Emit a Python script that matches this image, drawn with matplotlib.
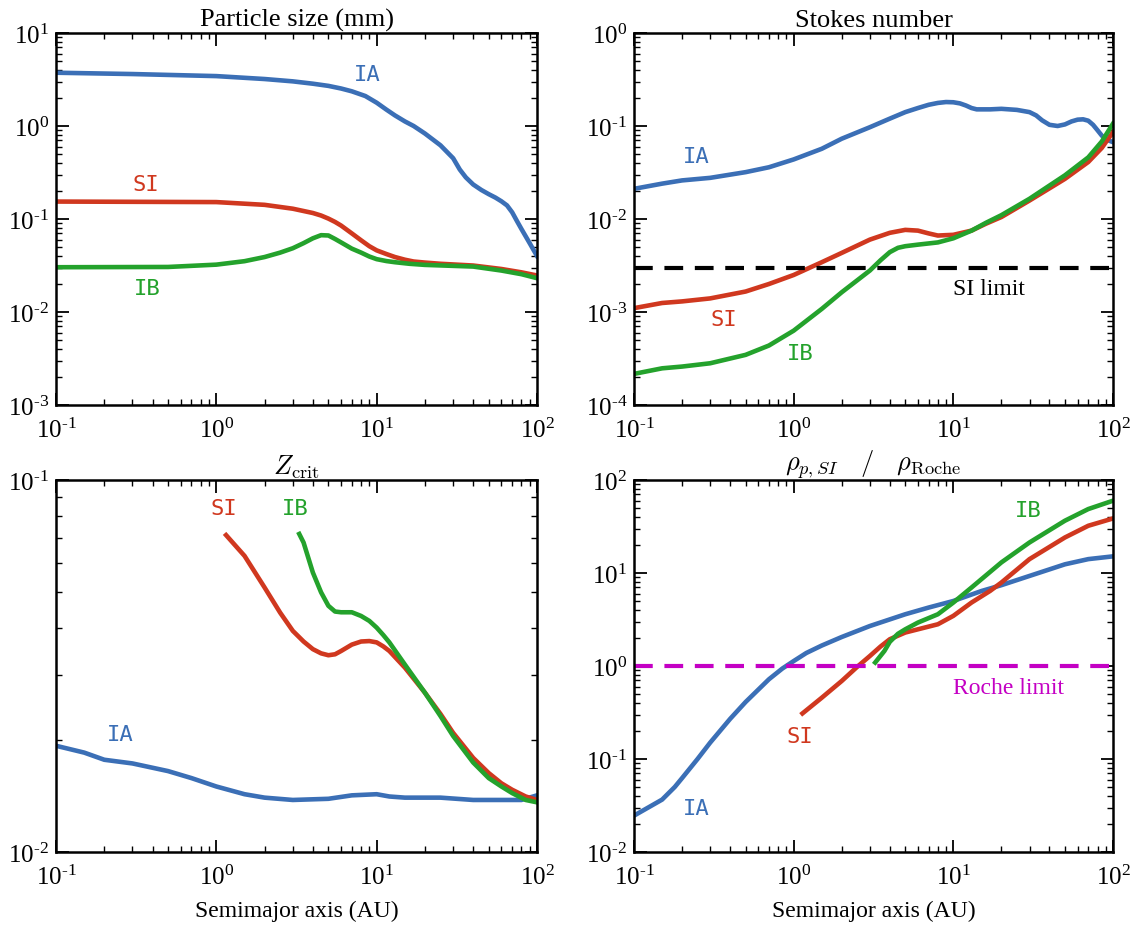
import matplotlib
matplotlib.use("Agg")
import math
import matplotlib.pyplot as plt
from matplotlib.ticker import LogLocator, FuncFormatter, NullFormatter

plt.rcParams['font.family'] = ['Liberation Serif', 'DejaVu Serif']
plt.rcParams['mathtext.fontset'] = 'custom'
plt.rcParams['mathtext.rm'] = 'Liberation Serif'
plt.rcParams['mathtext.it'] = 'Liberation Serif:italic'
plt.rcParams['mathtext.bf'] = 'Liberation Serif:bold'

C_IA = '#3b6fb6'
C_SI = '#d0381f'
C_IB = '#24a22c'
C_ROCHE = '#c400c4'

# ---------------- Particle size (mm) ----------------
size_ia_x = [0.1, 0.3, 1, 2, 3, 4, 5, 6, 7, 8.5, 10, 11.5, 13, 15, 17, 20, 25, 30, 33, 36, 40, 45,
             50, 55, 60, 65, 70, 75, 80, 90, 100]
size_ia_y = [3.74, 3.62, 3.44, 3.2, 3.02, 2.85, 2.7, 2.53, 2.36, 2.1, 1.78, 1.5, 1.3, 1.12, 1.0,
             0.83, 0.62, 0.45, 0.34, 0.28, 0.235, 0.205, 0.185, 0.17, 0.155, 0.14, 0.118, 0.095,
             0.078, 0.055, 0.040]
size_si_x = [0.1, 1, 2, 3, 4, 4.5, 5, 5.5, 6, 7, 8, 9, 10, 11.5, 13, 15, 17, 20, 25, 40, 60, 80, 100]
size_si_y = [0.154, 0.152, 0.142, 0.129, 0.116, 0.109, 0.101, 0.093, 0.085, 0.07, 0.059, 0.051,
             0.046, 0.042, 0.039, 0.0365, 0.0349, 0.034, 0.033, 0.0316, 0.029, 0.0267, 0.0247]
size_ib_x = [0.1, 0.5, 1, 1.5, 2, 2.5, 3, 3.5, 4, 4.5, 5, 5.5, 6, 7, 8, 9, 10, 11.5, 13, 16, 20,
             40, 60, 80, 100]
size_ib_y = [0.0303, 0.0305, 0.0323, 0.0352, 0.039, 0.0435, 0.0485, 0.055, 0.062, 0.067, 0.0665,
             0.061, 0.056, 0.048, 0.0435, 0.0395, 0.037, 0.0353, 0.0343, 0.033, 0.0321, 0.0308,
             0.0279, 0.0255, 0.0231]

# ---------------- Stokes number ----------------
st_ia_x = [0.1, 0.15, 0.2, 0.3, 0.5, 0.7, 1, 1.5, 2, 3, 4, 5, 6, 7, 8, 9, 10, 11, 12, 13, 14, 17,
           20, 25, 30, 33, 36, 40, 45, 50, 55, 60, 65, 70, 75, 80, 85, 90, 100]
st_ia_y = [0.0211, 0.024, 0.026, 0.0277, 0.0319, 0.036, 0.0437, 0.0569, 0.073, 0.097, 0.12,
           0.141, 0.156, 0.169, 0.177, 0.181, 0.18, 0.175, 0.166, 0.156, 0.151, 0.151, 0.153,
           0.149, 0.141, 0.13, 0.115, 0.103, 0.1, 0.104, 0.112, 0.117, 0.118, 0.114, 0.103,
           0.09, 0.079, 0.072, 0.067]
st_si_x = [0.1, 0.15, 0.2, 0.3, 0.5, 0.7, 1, 1.5, 2, 3, 4, 5, 6, 7, 8, 10, 13, 16, 20, 30, 50, 70,
           85, 100]
st_si_y = [0.0011, 0.00125, 0.0013, 0.0014, 0.00166, 0.002, 0.0025, 0.00343, 0.00432, 0.006,
           0.0071, 0.00764, 0.0075, 0.0070, 0.00664, 0.00676, 0.0075, 0.0089, 0.0105, 0.0158,
           0.027, 0.041, 0.058, 0.086]
st_ib_x = [0.1, 0.15, 0.2, 0.3, 0.5, 0.7, 1, 1.5, 2, 3, 3.5, 4, 4.5, 5, 6, 8, 10, 13, 16, 20, 30,
           50, 70, 85, 100]
st_ib_y = [0.000216, 0.000248, 0.000259, 0.000281, 0.000346, 0.000436, 0.00063, 0.00108, 0.00163,
           0.00279, 0.0036, 0.0044, 0.0049, 0.0051, 0.0053, 0.0056, 0.0062, 0.0075, 0.0091, 0.011,
           0.0165, 0.0295, 0.046, 0.068, 0.106]
si_limit = 3e-3

# ---------------- Z_crit ----------------
z_si_x = [1.15, 1.5, 2, 2.5, 3, 3.5, 4, 4.5, 5, 5.5, 6, 7, 8, 9, 10, 11, 12, 15, 20, 25, 30, 40,
          50, 60, 70, 85, 100]
z_si_y = [0.0711, 0.0625, 0.0514, 0.044, 0.0393, 0.0368, 0.0351, 0.0342, 0.0338, 0.034, 0.0347,
          0.0361, 0.0368, 0.0369, 0.0366, 0.0357, 0.0347, 0.0313, 0.0268, 0.0235, 0.0209, 0.0179,
          0.0163, 0.0153, 0.0147, 0.0141, 0.0138]
z_ib_x = [3.29, 3.5, 4, 4.5, 5, 5.5, 6, 7, 8, 9, 10, 11, 12, 15, 20, 25, 30, 40, 50, 60, 70, 85,
          100]
z_ib_y = [0.0716, 0.0679, 0.0564, 0.0499, 0.0459, 0.0443, 0.0441, 0.0441, 0.0431, 0.0418, 0.0401,
          0.0383, 0.0366, 0.0319, 0.0268, 0.0232, 0.0205, 0.0174, 0.0158, 0.015, 0.0144, 0.0138,
          0.0136]
z_ia_x = [0.1, 0.15, 0.2, 0.3, 0.5, 0.7, 1, 1.5, 2, 3, 5, 7, 10, 12, 15, 25, 40, 80, 100]
z_ia_y = [0.0193, 0.0185, 0.0177, 0.0173, 0.0165, 0.0158, 0.0150, 0.0143, 0.0140, 0.0138, 0.0139,
          0.0142, 0.0143, 0.0141, 0.0140, 0.0140, 0.0138, 0.0138, 0.0142]

# ---------------- rho_p,SI / rho_Roche ----------------
r_ia_x = [0.1, 0.15, 0.18, 0.2, 0.25, 0.3, 0.4, 0.5, 0.7, 0.85, 1, 1.2, 1.5, 2, 3, 5, 7, 10, 15,
          20, 30, 50, 70, 100]
r_ia_y = [0.0246, 0.0366, 0.05, 0.0623, 0.1, 0.15, 0.27, 0.41, 0.72, 0.94, 1.13, 1.38, 1.66, 2.05,
          2.69, 3.6, 4.25, 5.0, 6.4, 7.4, 9.3, 12.4, 14.1, 15.1]
r_si_x = [1.135, 1.5, 2, 2.5, 3, 3.5, 4, 5, 6, 8, 10, 13, 17, 20, 30, 50, 70, 100]
r_si_y = [0.309, 0.456, 0.69, 0.98, 1.28, 1.62, 1.94, 2.29, 2.48, 2.81, 3.46, 4.81, 6.42, 7.9,
          14.1, 24.1, 32.2, 38.6]
r_ib_x = [3.24, 3.7, 4, 4.5, 5, 6, 8, 10, 13, 20, 30, 50, 70, 100]
r_ib_y = [1.09, 1.45, 1.82, 2.22, 2.48, 2.93, 3.6, 4.81, 6.98, 13, 21.3, 36.5, 48.7, 59.9]
roche_limit = 1.0

titles = ['Particle size (mm)', 'Stokes number', r'$Z_{\rm crit}$',
          r'$\rho_{p,SI}\quad/\quad\rho_{\rm Roche}$']
xlabel = 'Semimajor axis (AU)'

fig = plt.figure(figsize=(11.33, 9.28), dpi=100)
W, H = 1133.0, 928.0
def box(l, r, t, b):
    return [l / W, 1 - b / H, (r - l) / W, (b - t) / H]

ax1 = fig.add_axes(box(56, 537, 34, 406))
ax2 = fig.add_axes(box(634, 1113, 34, 406))
ax3 = fig.add_axes(box(56, 537, 481, 853))
ax4 = fig.add_axes(box(634, 1113, 481, 853))

def fmt(v, pos):
    e = int(round(math.log10(v)))
    return r'$10^{%s}$' % (str(e).replace('-', '\u2010'))

LW = 3.3
mono = dict(family='DejaVu Sans Mono', fontsize=16)

def style(ax, ylim, title, math_title=False, xl=False):
    ax.set_xscale('log')
    ax.set_yscale('log')
    ax.set_xlim(0.1, 100)
    ax.set_ylim(*ylim)
    for s in ax.spines.values():
        s.set_linewidth(1.8)
    ax.xaxis.set_major_locator(LogLocator(base=10, numticks=10))
    ax.yaxis.set_major_locator(LogLocator(base=10, numticks=10))
    ax.xaxis.set_minor_locator(LogLocator(base=10, subs=range(2, 10), numticks=20))
    ax.yaxis.set_minor_locator(LogLocator(base=10, subs=range(2, 10), numticks=20))
    ax.xaxis.set_major_formatter(FuncFormatter(fmt))
    ax.yaxis.set_major_formatter(FuncFormatter(fmt))
    ax.xaxis.set_minor_formatter(NullFormatter())
    ax.yaxis.set_minor_formatter(NullFormatter())
    ax.tick_params(which='both', direction='in', top=True, right=True, labelsize=18)
    ax.tick_params(which='major', length=9, width=1.3)
    ax.tick_params(axis='x', which='major', pad=9)
    ax.tick_params(axis='y', which='major', pad=5)
    ax.tick_params(which='minor', length=4.5, width=1.0)
    if math_title:
        ax.set_title(title, fontsize=19, pad=4, math_fontfamily='cm')
    else:
        ax.set_title(title, fontsize=19, pad=5)
    if xl:
        ax.set_xlabel(xlabel, fontsize=17, labelpad=8)

# Panel 1
ax1.plot(size_ia_x, size_ia_y, color=C_IA, lw=LW)
ax1.plot(size_si_x, size_si_y, color=C_SI, lw=LW)
ax1.plot(size_ib_x, size_ib_y, color=C_IB, lw=LW)
ax1.text(8.7, 3.65, 'IA', color=C_IA, ha='center', va='center', **mono)
ax1.text(0.366, 0.24, 'SI', color=C_SI, ha='center', va='center', **mono)
ax1.text(0.37, 0.018, 'IB', color=C_IB, ha='center', va='center', **mono)
style(ax1, (1e-3, 1e1), titles[0])

# Panel 2
ax2.plot(st_ia_x, st_ia_y, color=C_IA, lw=LW)
ax2.plot(st_si_x, st_si_y, color=C_SI, lw=LW)
ax2.plot(st_ib_x, st_ib_y, color=C_IB, lw=LW)
ax2.axhline(si_limit, color='k', lw=3, ls=(0, (4.5, 2.8)))
ax2.text(16.6, 0.0018, 'SI limit', color='k', ha='center', va='center', fontsize=17)
ax2.text(0.247, 0.048, 'IA', color=C_IA, ha='center', va='center', **mono)
ax2.text(0.366, 0.00084, 'SI', color=C_SI, ha='center', va='center', **mono)
ax2.text(1.1, 0.00036, 'IB', color=C_IB, ha='center', va='center', **mono)
style(ax2, (1e-4, 1e0), titles[1])

# Panel 3
ax3.plot(z_ia_x, z_ia_y, color=C_IA, lw=LW)
ax3.plot(z_si_x, z_si_y, color=C_SI, lw=LW)
ax3.plot(z_ib_x, z_ib_y, color=C_IB, lw=LW)
ax3.text(1.107, 0.0839, 'SI', color=C_SI, ha='center', va='center', **mono)
ax3.text(3.09, 0.0839, 'IB', color=C_IB, ha='center', va='center', **mono)
ax3.text(0.25, 0.0208, 'IA', color=C_IA, ha='center', va='center', **mono)
style(ax3, (1e-2, 1e-1), titles[2], math_title=True, xl=True)

# Panel 4
ax4.plot(r_ia_x, r_ia_y, color=C_IA, lw=LW)
ax4.plot(r_si_x, r_si_y, color=C_SI, lw=LW)
ax4.plot(r_ib_x, r_ib_y, color=C_IB, lw=LW)
ax4.axhline(roche_limit, color=C_ROCHE, lw=3, ls=(0, (4.5, 2.8)))
ax4.text(22.1, 0.585, 'Roche limit', color=C_ROCHE, ha='center', va='center', fontsize=17)
ax4.text(29.5, 47.8, 'IB', color=C_IB, ha='center', va='center', **mono)
ax4.text(1.09, 0.176, 'SI', color=C_SI, ha='center', va='center', **mono)
ax4.text(0.247, 0.0298, 'IA', color=C_IA, ha='center', va='center', **mono)
style(ax4, (1e-2, 1e2), titles[3], math_title=True, xl=True)

fig.savefig('out.png', dpi=100)
